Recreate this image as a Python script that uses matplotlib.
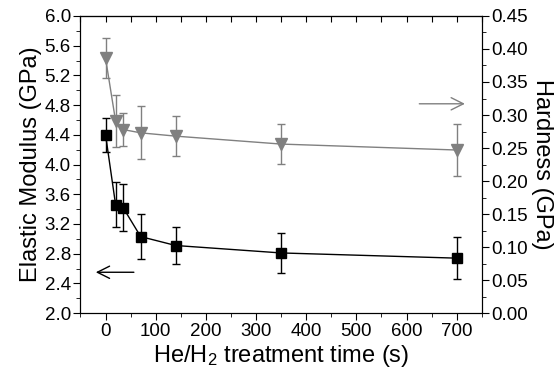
import matplotlib
matplotlib.use("Agg")
import matplotlib.pyplot as plt
from matplotlib.ticker import MultipleLocator, FormatStrFormatter

plt.rcParams['font.family'] = ['Liberation Sans', 'DejaVu Sans']
plt.rcParams['mathtext.fontset'] = 'custom'
plt.rcParams['mathtext.rm'] = 'Liberation Sans'
plt.rcParams['mathtext.default'] = 'regular'

# treatment time (s)
time_s = [0, 20, 35, 70, 140, 350, 700]
# elastic modulus (GPa), left axis
modulus = [4.40, 3.46, 3.42, 3.03, 2.91, 2.81, 2.74]
modulus_err = [0.23, 0.30, 0.32, 0.30, 0.245, 0.27, 0.28]
# hardness (GPa), right axis
hardness = [0.386, 0.291, 0.278, 0.273, 0.268, 0.256, 0.247]
hardness_err = [0.030, 0.040, 0.025, 0.040, 0.030, 0.030, 0.040]

gray = '#808080'

fig, ax = plt.subplots(figsize=(5.55, 3.8), dpi=100)
fig.subplots_adjust(left=0.145, right=0.868, top=0.958, bottom=0.176)

ax.errorbar(time_s, modulus, yerr=modulus_err, color='black', marker='s',
            markersize=7, lw=1, elinewidth=1, capsize=3, capthick=1)
ax.set_xlim(-50, 750)
ax.set_ylim(2.0, 6.0)
ax.xaxis.set_major_locator(MultipleLocator(100))
ax.xaxis.set_minor_locator(MultipleLocator(50))
ax.yaxis.set_major_locator(MultipleLocator(0.4))
ax.yaxis.set_minor_locator(MultipleLocator(0.2))
ax.yaxis.set_major_formatter(FormatStrFormatter('%.1f'))
ax.tick_params(axis='both', which='major', direction='out', length=5, labelsize=13.5, pad=2)
ax.tick_params(axis='both', which='minor', direction='out', length=3)
ax.set_xlabel('He/H$_2$ treatment time (s)', fontsize=17, labelpad=2)
ax.set_ylabel('Elastic Modulus (GPa)', fontsize=17, labelpad=2)
ax.annotate('', xy=(-25, 2.55), xytext=(62, 2.55),
            arrowprops=dict(arrowstyle='->', color='black', lw=1, mutation_scale=22))

# top axis: inward ticks, no labels
top = ax.secondary_xaxis('top')
top.xaxis.set_major_locator(MultipleLocator(50))
top.tick_params(direction='in', length=4, labeltop=False)

ax2 = ax.twinx()
ax2.errorbar(time_s, hardness, yerr=hardness_err, color=gray, marker='v',
             markersize=9, lw=1, elinewidth=1, capsize=3, capthick=1)
ax2.set_ylim(0, 0.45)
ax2.yaxis.set_major_locator(MultipleLocator(0.05))
ax2.yaxis.set_minor_locator(MultipleLocator(0.025))
ax2.yaxis.set_major_formatter(FormatStrFormatter('%.2f'))
ax2.tick_params(axis='y', which='major', direction='out', length=5, labelsize=13.5, pad=2)
ax2.tick_params(axis='y', which='minor', direction='out', length=3)
ax2.set_ylabel('Hardness (GPa)', fontsize=17, rotation=270, labelpad=18)
ax2.annotate('', xy=(722, 0.317), xytext=(620, 0.317),
             arrowprops=dict(arrowstyle='->', color=gray, lw=1, mutation_scale=22))

fig.savefig('out.png', dpi=100)
